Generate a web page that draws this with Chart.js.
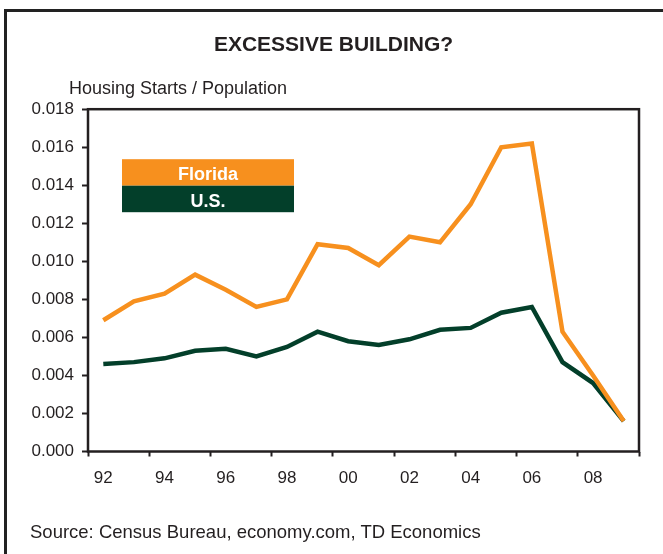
<!DOCTYPE html>
<html>
<head>
<meta charset="utf-8">
<title>Excessive Building?</title>
<script src="https://cdn.jsdelivr.net/npm/chart.js@4.4.1/dist/chart.umd.min.js"></script>
<style>
  html, body { margin: 0; padding: 0; background: #fff; overflow: hidden; }
  body { width: 663px; height: 554px; position: relative; font-family: "Liberation Sans", Arial, sans-serif; }
  .frame { position: absolute; left: 4px; top: 9px; width: 700px; height: 600px; border: 3px solid #222; box-sizing: border-box; }
  #myChart { position: absolute; left: 0; top: 0; }
  .source { position: absolute; left: 30px; top: 523px; font-size: 18.5px; line-height: 18px; color: #231f20; white-space: nowrap; }
</style>
</head>
<body>
<div class="frame"></div>
<canvas id="myChart" width="663" height="554"></canvas>
<div class="source">Source: Census Bureau, economy.com, TD Economics</div>
<script>
const years = ['92', '93', '94', '95', '96', '97', '98', '99', '00', '01', '02', '03', '04', '05', '06', '07', '08', '09'];
const florida = [0.0069, 0.0079, 0.0083, 0.0093, 0.0085, 0.0076, 0.0080, 0.0109, 0.0107, 0.0098, 0.0113, 0.0110, 0.0130, 0.0160, 0.0162, 0.0063, 0.0040, 0.0016];
const us = [0.0046, 0.0047, 0.0049, 0.0053, 0.0054, 0.0050, 0.0055, 0.0063, 0.0058, 0.0056, 0.0059, 0.0064, 0.0065, 0.0073, 0.0076, 0.0047, 0.0036, 0.0016];
const yTicks = [0, 0.002, 0.004, 0.006, 0.008, 0.010, 0.012, 0.014, 0.016, 0.018];

const ink = '#231f20';
const orange = '#f7901e';
const green = '#033f2a';
const font = '"Liberation Sans", Arial, sans-serif';

// frame round the plot, y axis caption and the boxed legend
const extras = {
  id: 'extras',
  beforeDatasetsDraw(chart) {
    const { ctx, chartArea: a } = chart;
    ctx.save();
    ctx.strokeStyle = ink;
    ctx.lineWidth = 2.5;
    ctx.strokeRect(a.left, a.top, a.right - a.left, a.bottom - a.top);
    ctx.restore();
  },
  afterDraw(chart) {
    const { ctx, chartArea: a } = chart;
    ctx.save();
    ctx.fillStyle = ink;
    ctx.font = '18px ' + font;
    ctx.textAlign = 'left';
    ctx.textBaseline = 'alphabetic';
    ctx.fillText('Housing Starts / Population', a.left - 19, a.top - 15);

    const bx = a.left + 34, by = a.top + 50, bw = 172, bh = 26.5;
    chart.data.datasets.forEach((ds, i) => {
      ctx.fillStyle = ds.borderColor;
      ctx.fillRect(bx, by + i * bh, bw, bh);
      ctx.fillStyle = '#fff';
      ctx.font = 'bold 18px ' + font;
      ctx.textAlign = 'center';
      ctx.fillText(ds.label, bx + bw / 2, by + i * bh + 21);
    });
    ctx.restore();
  }
};

new Chart(document.getElementById('myChart'), {
  type: 'line',
  data: {
    labels: years,
    datasets: [
      { label: 'Florida', data: florida, borderColor: orange, backgroundColor: orange },
      { label: 'U.S.', data: us, borderColor: green, backgroundColor: green }
    ]
  },
  options: {
    responsive: false,
    animation: false,
    layout: { padding: { left: 28, right: 24, top: 0, bottom: 0 } },
    elements: {
      line: { borderWidth: 4.5, tension: 0, borderJoinStyle: 'miter', borderCapStyle: 'butt' },
      point: { radius: 0, hoverRadius: 0 }
    },
    plugins: {
      legend: { display: false },
      tooltip: { enabled: false },
      title: {
        display: true,
        text: 'EXCESSIVE BUILDING?',
        color: ink,
        font: { family: font, size: 21, weight: 'bold' },
        padding: { top: 33, bottom: 51 }
      }
    },
    scales: {
      x: {
        offset: true,
        afterFit(scale) { scale.height = 102.5; },
        border: { display: false },
        grid: {
          offset: true,
          drawOnChartArea: false,
          tickLength: 5,
          tickWidth: 2,
          tickColor: (c) => (c.index === undefined || c.index % 2 === 0) ? ink : 'rgba(0,0,0,0)'
        },
        ticks: {
          autoSkip: false,
          maxRotation: 0,
          padding: 12,
          color: ink,
          font: { family: font, size: 17 },
          callback: (v, i) => i % 2 === 0 ? years[i] : ''
        }
      },
      y: {
        min: 0,
        max: 0.018,
        afterFit(scale) { scale.width = 60; },
        afterBuildTicks(scale) { scale.ticks = yTicks.map(v => ({ value: v })); },
        border: { display: false },
        grid: { drawOnChartArea: false, tickLength: 6, tickWidth: 2, tickColor: ink },
        ticks: {
          padding: 8,
          color: ink,
          font: { family: font, size: 17 },
          callback: (v) => v.toFixed(3)
        }
      }
    }
  },
  plugins: [extras]
});
</script>
</body>
</html>
